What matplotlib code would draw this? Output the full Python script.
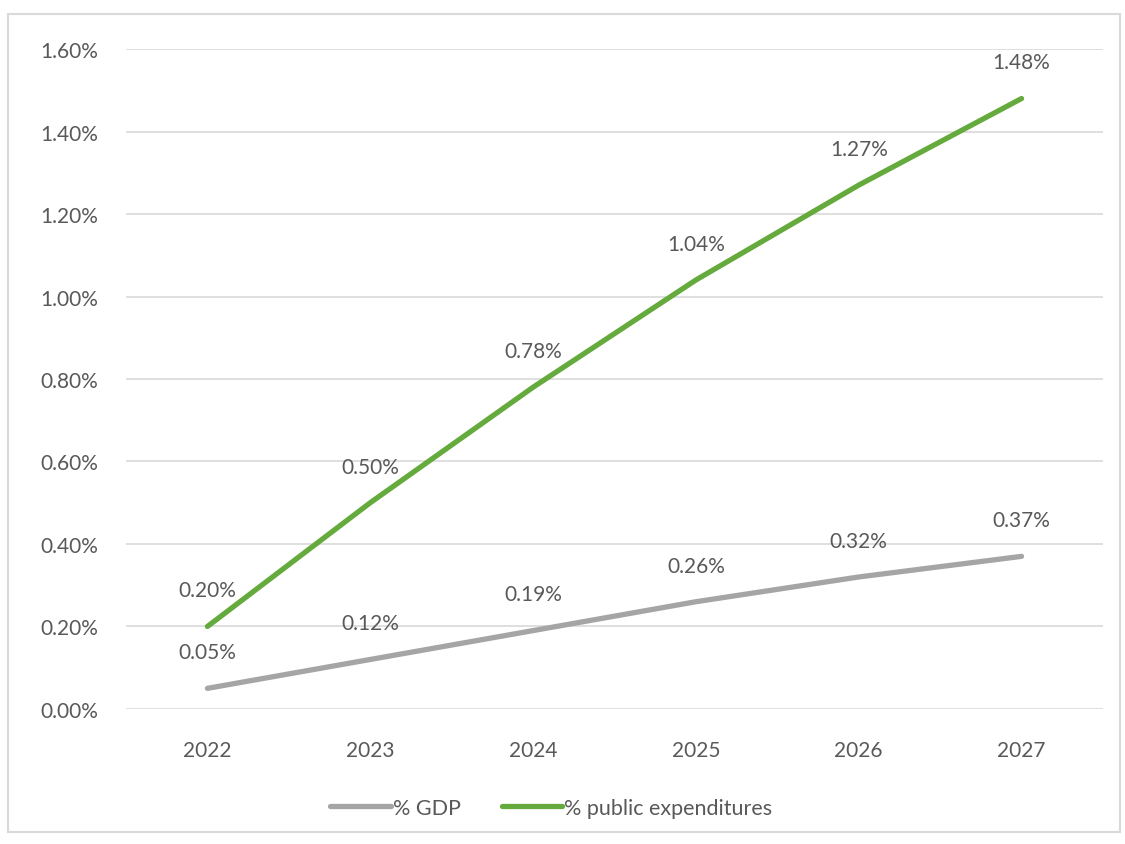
import matplotlib.pyplot as plt
from matplotlib.patches import Rectangle
from matplotlib.ticker import FuncFormatter

plt.rcParams['font.family'] = ['Lato', 'DejaVu Sans']

years = ['2022', '2023', '2024', '2025', '2026', '2027']
gdp_share = [0.05, 0.12, 0.19, 0.26, 0.32, 0.37]
public_exp_share = [0.20, 0.50, 0.78, 1.04, 1.27, 1.48]

text_grey = '#595959'
grid_grey = '#d9d9d9'
gdp_color = '#a5a5a5'
exp_color = '#65aa3c'

fig = plt.figure(figsize=(11.25, 8.45), dpi=100)
ax = fig.add_axes([0.112, 0.1598, 0.8684, 0.781])

# chart border
fig.patches.append(Rectangle((8 / 1125, 12 / 845), 1112 / 1125, 818 / 845,
                             transform=fig.transFigure, fill=False,
                             edgecolor=grid_grey, linewidth=1.5))

x = list(range(len(years)))
ax.plot(x, gdp_share, color=gdp_color, linewidth=3.8, solid_capstyle='round', label='% GDP')
ax.plot(x, public_exp_share, color=exp_color, linewidth=3.8, solid_capstyle='round',
        label='% public expenditures')

for series in (gdp_share, public_exp_share):
    for xi, v in zip(x, series):
        ax.annotate(f'{v:.2f}%', (xi, v), xytext=(0, 26), textcoords='offset points',
                    ha='center', va='center', fontsize=15, color=text_grey)

ax.set_xlim(-0.5, len(years) - 0.5)
ax.set_ylim(0, 1.6)
ax.set_yticks([i * 0.2 for i in range(9)])
ax.yaxis.set_major_formatter(FuncFormatter(lambda v, _: f'{v:.2f}%'))
ax.set_xticks(x)
ax.set_xticklabels(years)
ax.tick_params(axis='both', length=0, labelsize=15, labelcolor=text_grey)
ax.tick_params(axis='y', pad=20)
ax.tick_params(axis='x', pad=22)

ax.grid(axis='y', color=grid_grey, linewidth=1.2)
ax.set_axisbelow(True)
for s in ax.spines.values():
    s.set_visible(False)

fig.legend(loc='center', bbox_to_anchor=(0.49, 0.043), ncol=2, frameon=False,
           fontsize=15.5, labelcolor=text_grey, handlelength=2.8, handletextpad=0.1,
           columnspacing=1.9)

fig.savefig('out.png', dpi=100, facecolor='white')
